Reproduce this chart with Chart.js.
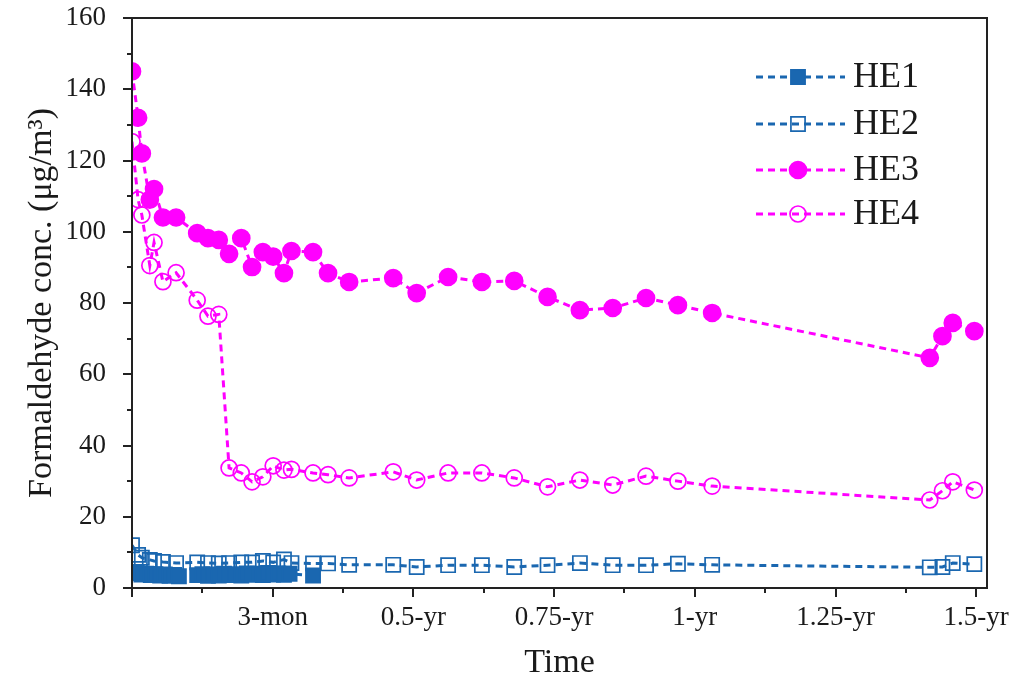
<!DOCTYPE html>
<html>
<head>
<meta charset="utf-8">
<script src="https://cdn.jsdelivr.net/npm/chart.js@4/dist/chart.umd.min.js"></script>
<style>
  body { margin: 0; background: #fff; }
  canvas { display: block; }
</style>
</head>
<body>
<canvas id="chart" width="1016" height="683"></canvas>
<script>
/* Formaldehyde concentration over time: Chart.js line chart */

// time in months since start
const times = [0, 0.13, 0.21, 0.38, 0.47, 0.66, 0.94, 1.39, 1.62, 1.85, 2.07, 2.33, 2.56, 2.79, 3.01, 3.24, 3.40,
  3.86, 4.18, 4.63, 5.57, 6.07, 6.74, 7.46, 8.15, 8.86, 9.55, 10.25, 10.96, 11.64, 12.37, 17.01, 17.28, 17.50, 17.96];

const he2 = [12.0, 9.3, 8.5, 7.9, 7.6, 7.3, 7.0, 7.2, 7.0, 6.9, 7.0, 7.2, 7.2, 7.6, 7.2, 8.0, 7.0,
  6.9, 6.9, 6.5, 6.5, 5.9, 6.4, 6.4, 5.9, 6.4, 7.0, 6.4, 6.4, 6.8, 6.5, 5.8, 5.9, 7.0, 6.7];

const he3 = [145, 132, 122, 109, 112, 104, 104, 99.6, 98.2, 97.7, 93.8, 98.2, 90.1, 94.3, 93.0, 88.4, 94.6,
  94.3, 88.4, 85.9, 87.0, 82.8, 87.3, 85.9, 86.2, 81.7, 78.0, 78.6, 81.4, 79.4, 77.2, 64.6, 70.7, 74.4, 72.1];

const he4 = [125.3, 109, 104.7, 90.5, 97, 86, 88.5, 80.8, 76.3, 76.8, 33.7, 32.3, 29.8, 31.2, 34.3, 33.1, 33.3,
  32.3, 31.8, 30.9, 32.6, 30.3, 32.3, 32.3, 30.9, 28.4, 30.3, 28.9, 31.4, 30.0, 28.6, 24.7, 27.3, 29.8, 27.5];

// HE1 was sampled more densely in the first months
const he1Times = [0, 0.1, 0.2, 0.3, 0.4, 0.5, 0.6, 0.7, 0.8, 0.9, 1.0, 1.39, 1.5, 1.62, 1.73, 1.85, 1.96, 2.07,
  2.2, 2.33, 2.45, 2.56, 2.68, 2.79, 2.9, 3.01, 3.12, 3.24, 3.36, 3.86];
const he1 = [4.5, 4.2, 3.8, 4.0, 3.6, 3.9, 3.5, 3.8, 3.4, 3.7, 3.3, 3.6, 3.9, 3.4, 3.8, 3.5, 4.0, 3.6,
  3.9, 3.5, 4.1, 3.7, 4.0, 3.6, 4.2, 3.8, 4.1, 3.7, 4.0, 3.5];

const xTickValues = [0, 3, 6, 9, 12, 15, 18];
const xTickLabels = ['', '3-mon', '0.5-yr', '0.75-yr', '1-yr', '1.25-yr', '1.5-yr'];
const xMinorTicks = [1.5, 4.5, 7.5, 10.5, 13.5, 16.5];
const yMajorStep = 20;
const yMinorStep = 10;

const BLUE = '#1a67b0';
const MAGENTA = '#ff00ff';
const FONT = "'Liberation Serif', 'Times New Roman', serif";

function pairs(xs, ys) {
  return xs.map((x, i) => ({ x, y: ys[i] }));
}

function lineSet(label, xs, ys, color, style, filled, radius) {
  return {
    label,
    data: pairs(xs, ys),
    borderColor: color,
    borderWidth: 3,
    borderDash: [7, 5],
    pointStyle: style,
    pointRadius: radius,
    pointBorderWidth: 1.7,
    pointBorderColor: color,
    pointBackgroundColor: filled ? color : 'rgba(255,255,255,0)',
    tension: 0,
    fill: false,
  };
}

const datasets = [
  lineSet('HE1', he1Times, he1, BLUE, 'rect', true, 10),
  lineSet('HE2', times, he2, BLUE, 'rect', false, 10),
  lineSet('HE3', times, he3, MAGENTA, 'circle', true, 8.5),
  lineSet('HE4', times, he4, MAGENTA, 'circle', false, 8),
];

// axis frame, tick marks and legend drawn like the original figure
const decorations = {
  id: 'decorations',
  afterDatasetsDraw(chart) {
    const { ctx, chartArea: a, scales: { x, y } } = chart;
    ctx.save();
    ctx.strokeStyle = '#222';
    ctx.lineWidth = 2;
    ctx.setLineDash([]);
    ctx.strokeRect(a.left, a.top, a.right - a.left, a.bottom - a.top);

    ctx.beginPath();
    for (let v = 0; v <= 160; v += yMinorStep) {
      const py = Math.round(y.getPixelForValue(v));
      const len = v % yMajorStep === 0 ? 9 : 5;
      ctx.moveTo(a.left - len, py);
      ctx.lineTo(a.left, py);
    }
    xTickValues.forEach(v => {
      const px = Math.round(x.getPixelForValue(v));
      ctx.moveTo(px, a.bottom);
      ctx.lineTo(px, a.bottom + 9);
    });
    xMinorTicks.forEach(v => {
      const px = Math.round(x.getPixelForValue(v));
      ctx.moveTo(px, a.bottom);
      ctx.lineTo(px, a.bottom + 5);
    });
    ctx.stroke();

    // legend
    const rows = [77, 124, 170, 214];
    chart.data.datasets.forEach((ds, i) => {
      const ry = rows[i];
      ctx.strokeStyle = ds.borderColor;
      ctx.lineWidth = 3;
      ctx.setLineDash([7, 5]);
      ctx.beginPath();
      ctx.moveTo(756, ry);
      ctx.lineTo(845, ry);
      ctx.stroke();
      ctx.setLineDash([]);
      ctx.lineWidth = ds.pointBorderWidth;
      ctx.fillStyle = ds.pointBackgroundColor;
      ctx.strokeStyle = ds.pointBorderColor;
      ctx.beginPath();
      if (ds.pointStyle === 'rect') {
        const s = ds.pointRadius * Math.SQRT1_2;
        ctx.rect(798 - s, ry - s, 2 * s, 2 * s);
      } else {
        ctx.arc(798, ry, ds.pointRadius, 0, Math.PI * 2);
      }
      ctx.fill();
      ctx.stroke();
      ctx.fillStyle = '#1a1a1a';
      ctx.font = '36px ' + FONT;
      ctx.textBaseline = 'middle';
      ctx.textAlign = 'left';
      ctx.fillText(ds.label, 853, ry + 1);
    });
    ctx.restore();
  },
};

new Chart(document.getElementById('chart'), {
  type: 'line',
  data: { datasets },
  plugins: [decorations],
  options: {
    responsive: false,
    animation: false,
    layout: { padding: { left: 22, right: 29, top: 18, bottom: 0 } },
    plugins: {
      legend: { display: false },
      tooltip: { enabled: false },
    },
    scales: {
      x: {
        type: 'linear',
        min: 0,
        max: 18.23,
        grid: { display: false },
        border: { display: false },
        afterBuildTicks: scale => {
          scale.ticks = xTickValues.map(v => ({ value: v }));
        },
        afterFit: scale => {
          scale.height = 95;
          scale.paddingLeft = 0;
          scale.paddingRight = 0;
        },
        ticks: {
          autoSkip: false,
          maxRotation: 0,
          padding: 6,
          color: '#1a1a1a',
          font: { family: FONT, size: 27 },
          callback: v => xTickLabels[xTickValues.indexOf(v)],
        },
        title: {
          display: true,
          text: 'Time',
          color: '#1a1a1a',
          font: { family: FONT, size: 34 },
          padding: { top: 0, bottom: 0 },
        },
      },
      y: {
        min: 0,
        max: 160,
        grid: { display: false },
        border: { display: false },
        afterFit: scale => {
          scale.width = 110;
          scale.paddingTop = 0;
          scale.paddingBottom = 0;
        },
        ticks: {
          stepSize: yMajorStep,
          padding: 18,
          color: '#1a1a1a',
          font: { family: FONT, size: 27 },
        },
        title: {
          display: true,
          text: 'Formaldehyde conc. (μg/m³)',
          color: '#1a1a1a',
          font: { family: FONT, size: 34 },
          padding: { top: 0, bottom: 0 },
        },
      },
    },
  },
});
</script>
</body>
</html>
